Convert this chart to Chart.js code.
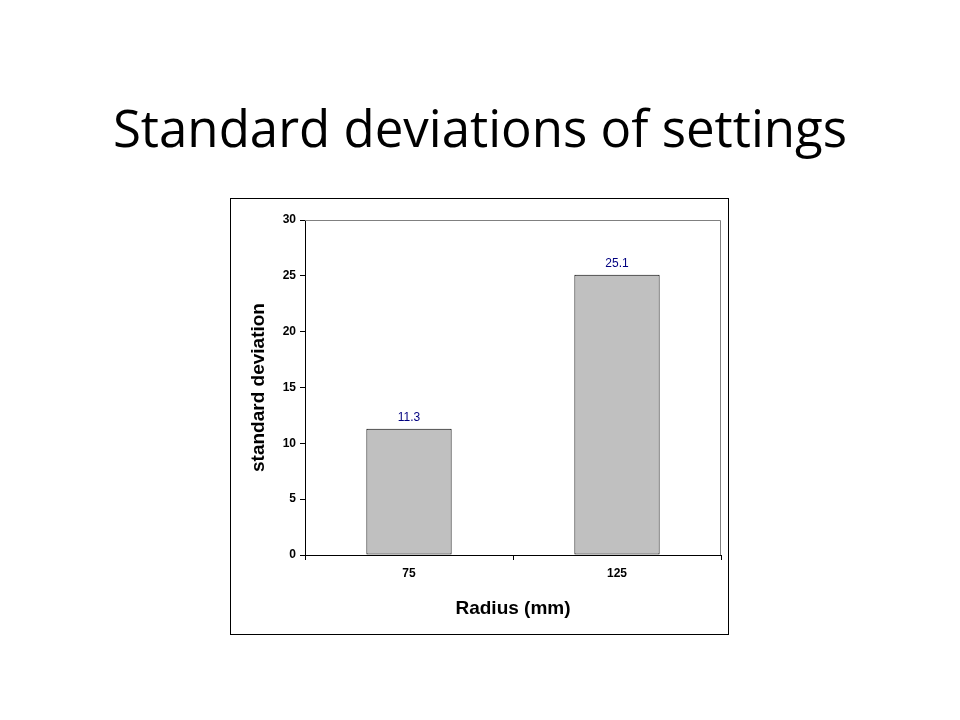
<!DOCTYPE html>
<html>
<head>
<meta charset="utf-8">
<script src="https://cdn.jsdelivr.net/npm/chart.js@4"></script>
<style>
  body { margin:0; width:960px; height:720px; background:#fff; position:relative; font-family:"Liberation Sans", Arial, sans-serif; }
  h1 { position:absolute; left:0; width:960px; top:92px; margin:0; text-align:center; font-family:"Open Sans","Noto Sans",sans-serif; font-weight:normal; font-size:51px; color:#000; }
  #frame { position:absolute; left:230px; top:198px; width:497px; height:435px; border:1px solid #000; }
  canvas { display:block; }
</style>
</head>
<body>
<h1>Standard deviations of settings</h1>
<div id="frame"><canvas id="myChart" width="497" height="435"></canvas></div>
<script>
const categories = ['75', '125'];
const values = [11.3, 25.1];
const yTicks = [0, 5, 10, 15, 20, 25, 30];

// labels over the bars + plot area border
const extras = {
  id: 'extras',
  afterDatasetsDraw(chart) {
    const ctx = chart.ctx;
    const a = chart.chartArea;
    ctx.save();
    ctx.strokeStyle = '#808080';
    ctx.lineWidth = 1;
    ctx.beginPath();
    ctx.moveTo(a.left, a.top + 0.5);
    ctx.lineTo(a.right - 0.5, a.top + 0.5);
    ctx.lineTo(a.right - 0.5, a.bottom);
    ctx.stroke();
    ctx.fillStyle = '#000080';
    ctx.font = '12px "Liberation Sans", Arial, sans-serif';
    ctx.textAlign = 'center';
    ctx.textBaseline = 'bottom';
    chart.getDatasetMeta(0).data.forEach((bar, i) => {
      ctx.fillText(values[i].toFixed(1), bar.x, bar.y - 5);
    });
    ctx.restore();
  }
};

Chart.defaults.font.family = '"Liberation Sans", Arial, sans-serif';
Chart.defaults.color = '#000';

new Chart(document.getElementById('myChart'), {
  type: 'bar',
  data: {
    labels: categories,
    datasets: [{
      data: values,
      backgroundColor: '#c0c0c0',
      borderColor: '#000',
      borderWidth: 1,
      borderSkipped: false,
      categoryPercentage: 0.41,
      barPercentage: 1
    }]
  },
  options: {
    responsive: false,
    animation: false,
    layout: { padding: { left: 0, right: 7, top: 21, bottom: 0 } },
    plugins: { legend: { display: false }, tooltip: { enabled: false } },
    scales: {
      x: {
        grid: { offset: true, drawOnChartArea: false, color: '#000', tickLength: 5 },
        border: { color: '#000' },
        ticks: { font: { size: 12, weight: 'bold' }, padding: 6 },
        title: { display: true, text: 'Radius (mm)', font: { size: 19, weight: 'bold' }, padding: { top: 0, bottom: 14 } },
        afterFit(s) { s.height = 79; }
      },
      y: {
        min: 0, max: 30,
        afterBuildTicks(s) { s.ticks = yTicks.map(v => ({ value: v })); },
        grid: { drawOnChartArea: false, color: '#000', tickLength: 5 },
        border: { color: '#000' },
        ticks: { font: { size: 12, weight: 'bold' }, padding: 4 },
        title: { display: true, text: 'standard deviation', font: { size: 19, weight: 'bold' }, padding: { top: 16, bottom: 4 } },
        afterFit(s) { s.width = 74; }
      }
    }
  },
  plugins: [extras]
});
</script>
</body>
</html>
